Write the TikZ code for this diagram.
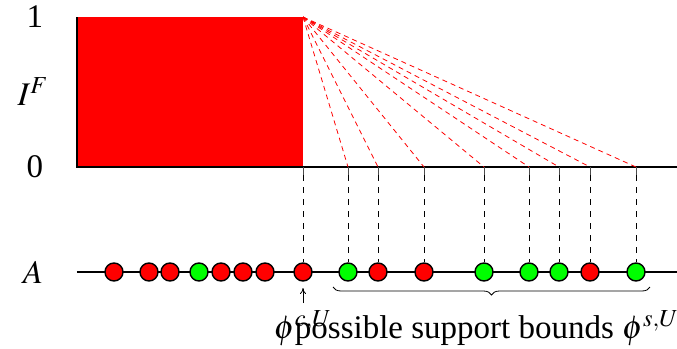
\documentclass[tikz,border=0pt]{standalone}
\usepackage{mathptmx}
\usepackage[no-math]{fontspec}
\setmainfont{Liberation Serif}
\newfontfamily\tnr{Liberation Serif}
\usetikzlibrary{decorations.pathreplacing,arrows.meta}
\definecolor{pgreen}{RGB}{0,255,0}
\definecolor{pred}{RGB}{255,0,0}
\tikzset{
  dot/.style={circle, draw=black, line width=0.7pt, minimum size=9pt, inner sep=0pt},
  reddash/.style={pred, line width=0.4pt, dash pattern=on 2.5pt off 2pt},
  axisline/.style={line width=1pt, black},
  tickline/.style={line width=0.4pt, black!70},
  lbl/.style={inner sep=0pt}
}
\begin{document}
\begin{tikzpicture}[x=0.5pt,y=-0.5pt, font=\tnr\fontsize{16.5}{19}\selectfont]
\useasboundingbox (0,0) rectangle (677,349);
% red rectangle
\fill[pred] (77,17) rectangle (303,167);
\coordinate (corner) at (303,17);
% axes
\draw[axisline] (77,17) -- (77,167) -- (677,167);
\node[lbl] (one) at (35,17) {1};
\node[lbl] (zero) at (35,167) {0};
\node[lbl] (IF) at (33,92) {$I^F$};
% A line
\draw[axisline] (77,272) -- (677,272);
\node[lbl] (Alab) at (33,272) {$A$};
% points
\foreach \n/\x/\c in {1/114/pred,2/149/pred,3/170/pred,4/199/pgreen,5/221/pred,6/243/pred,7/265/pred,8/303/pred,9/348/pgreen,10/378/pred,11/424/pred,12/484/pgreen,13/529/pgreen,14/559/pgreen,15/590/pred,16/636/pgreen}{
  \node[dot, fill=\c] (p\n) at (\x,272) {};
}
% ticks, vertical dashed lines, red dashed lines
\foreach \n/\x in {8/303,9/348,10/378,11/424,12/484,13/529,14/559,15/590,16/636}{
  \coordinate (t\n) at (\x,167);
  \coordinate (b\n) at (\x,175);
  \draw[tickline] (t\n) -- (b\n);
  \draw[dashed, line width=0.4pt] (b\n) -- (p\n.north);
}
\foreach \n in {9,10,11,12,13,14,15,16}{
  \draw[reddash] (corner) -- (t\n);
}
% phi c label
\node[lbl, anchor=base] (phic) at (303,338) {$\phi^{c,U}$};
\coordinate (arrbot) at (303,303);
\coordinate (arrtop) at (303,288);
\draw[-{To[length=3pt,width=3pt]}, line width=0.4pt] (arrbot) -- (arrtop);
% brace
\coordinate (brl) at (333,287);
\coordinate (brr) at (650,287);
\draw[decorate, decoration={brace, mirror, amplitude=4pt}, line width=0.4pt] (brl) -- (brr);
\node[lbl, anchor=base] (supp) at (487,338) {possible support bounds $\phi^{s,U}$};
\end{tikzpicture}
\end{document}
